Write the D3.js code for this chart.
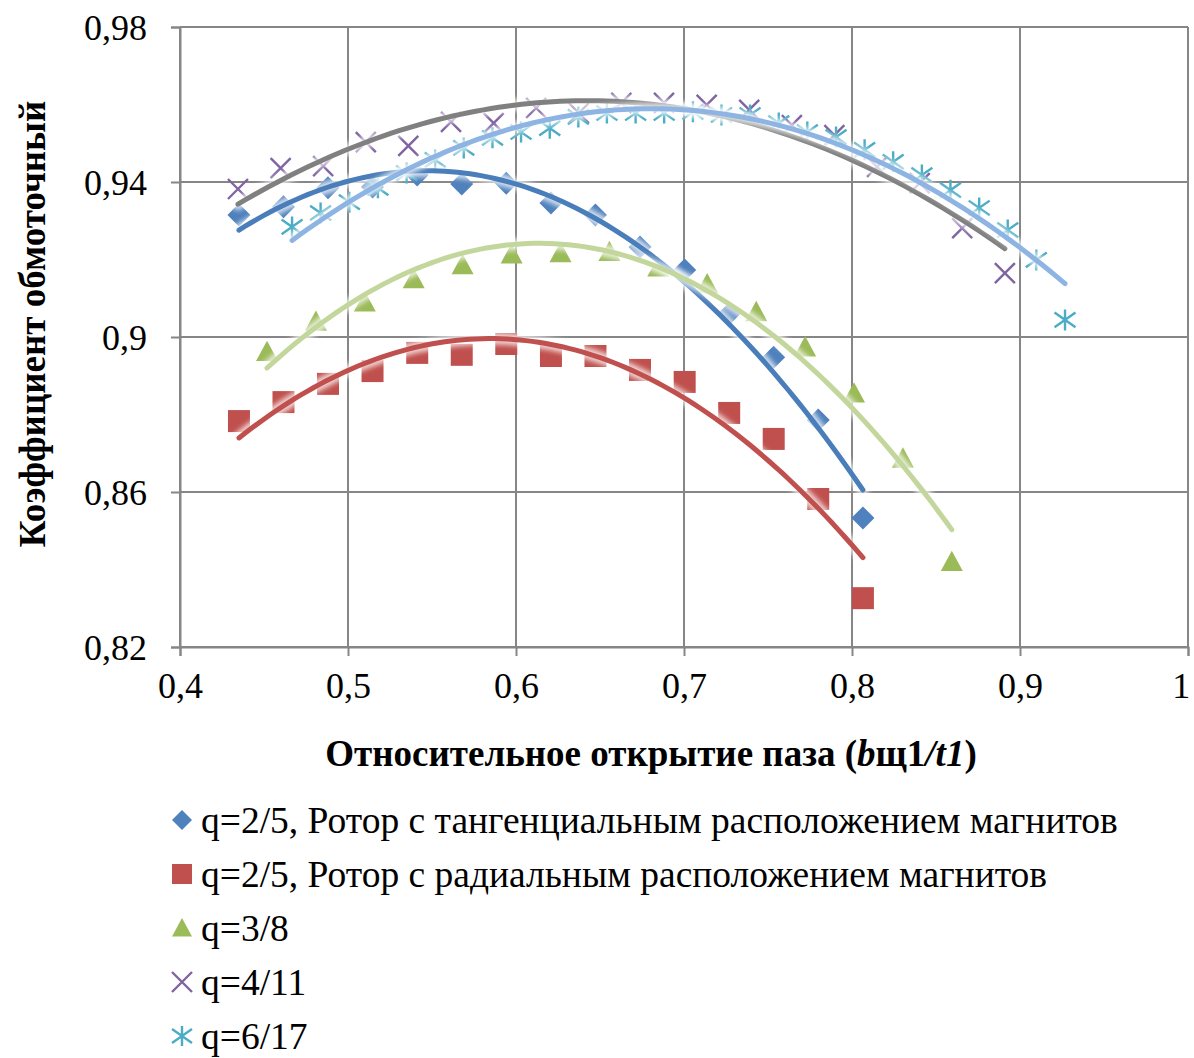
<!DOCTYPE html>
<html>
<head>
<meta charset="utf-8">
<script src="https://cdn.jsdelivr.net/npm/d3@7"></script>
<style>
  html, body { margin: 0; padding: 0; background: #fff; }
  svg { display: block; }
  text { font-family: "Liberation Serif", "Times New Roman", serif; fill: #000; }
</style>
</head>
<body>
<svg id="chart" width="1194" height="1058"></svg>
<script>
// Relative slot opening (b_sh1 / t1) for each series
const xTangential = [0.4351, 0.4616, 0.4881, 0.5146, 0.5412, 0.5677, 0.5942, 0.6208, 0.6473, 0.6738, 0.7004, 0.7269, 0.7534, 0.7799, 0.8065];
const yTangential = [0.9315, 0.9336, 0.9385, 0.9387, 0.9418, 0.9395, 0.9397, 0.9346, 0.9315, 0.9232, 0.9173, 0.9060, 0.8948, 0.8786, 0.8533];

const xRadial = [0.4351, 0.4616, 0.4881, 0.5146, 0.5412, 0.5677, 0.5942, 0.6208, 0.6473, 0.6738, 0.7004, 0.7269, 0.7534, 0.7799, 0.8065];
const yRadial = [0.8783, 0.8832, 0.8879, 0.8912, 0.8959, 0.8954, 0.8982, 0.8951, 0.8951, 0.8915, 0.8884, 0.8804, 0.8737, 0.8582, 0.8326];

const xQ38 = [0.4518, 0.4809, 0.5100, 0.5391, 0.5682, 0.5974, 0.6265, 0.6556, 0.6847, 0.7138, 0.7430, 0.7721, 0.8012, 0.8303, 0.8594];
const yQ38 = [0.8962, 0.9040, 0.9090, 0.9150, 0.9186, 0.9214, 0.9217, 0.9220, 0.9180, 0.9137, 0.9065, 0.8974, 0.8855, 0.8687, 0.8420];

const xQ411 = [0.4345, 0.4599, 0.4852, 0.5106, 0.5359, 0.5613, 0.5867, 0.6120, 0.6374, 0.6627, 0.6881, 0.7135, 0.7388, 0.7642, 0.7895, 0.8149, 0.8403, 0.8656, 0.8910];
const yQ411 = [0.9382, 0.9436, 0.9441, 0.9503, 0.9493, 0.9555, 0.9552, 0.9591, 0.9578, 0.9604, 0.9604, 0.9599, 0.9586, 0.9547, 0.9521, 0.9439, 0.9397, 0.9281, 0.9165];

const xQ617 = [0.4667, 0.4837, 0.5008, 0.5178, 0.5349, 0.5519, 0.5689, 0.5860, 0.6030, 0.6201, 0.6371, 0.6541, 0.6712, 0.6882, 0.7053, 0.7223, 0.7393, 0.7564, 0.7734, 0.7905, 0.8075, 0.8245, 0.8416, 0.8586, 0.8757, 0.8927, 0.9097, 0.9268];
const yQ617 = [0.9284, 0.9320, 0.9348, 0.9385, 0.9423, 0.9457, 0.9488, 0.9514, 0.9529, 0.9539, 0.9568, 0.9578, 0.9578, 0.9578, 0.9581, 0.9573, 0.9573, 0.9552, 0.9529, 0.9516, 0.9483, 0.9452, 0.9418, 0.9379, 0.9333, 0.9276, 0.9199, 0.9044];

const seriesNames = [
  "q=2/5, Ротор с тангенциальным расположением магнитов",
  "q=2/5, Ротор с радиальным расположением магнитов",
  "q=3/8",
  "q=4/11",
  "q=6/17"
];
const xTicks = [0.4, 0.5, 0.6, 0.7, 0.8, 0.9, 1];
const yTicks = [0.82, 0.86, 0.9, 0.94, 0.98];

const series = [
  { name: seriesNames[0], xs: xTangential, ys: yTangential, shape: "diamond",  color: "#4F81BD", trend: "#4A7EBB" },
  { name: seriesNames[1], xs: xRadial,     ys: yRadial,     shape: "square",   color: "#C0504D", trend: "#C0504D" },
  { name: seriesNames[2], xs: xQ38,        ys: yQ38,        shape: "triangle", color: "#9BBB59", trend: "#C3D69B" },
  { name: seriesNames[3], xs: xQ411,       ys: yQ411,       shape: "cross",    color: "#8064A2", trend: "#808080" },
  { name: seriesNames[4], xs: xQ617,       ys: yQ617,       shape: "star",     color: "#4BACC6", trend: "#8DB4E2" }
];

const svg = d3.select("#chart");
const fmt = v => String(v).replace(".", ",");

const x = d3.scaleLinear().domain([0.4, 1]).range([180, 1188]);
const y = d3.scaleLinear().domain([0.82, 0.98]).range([647, 27]);

const defs = svg.append("defs");
defs.append("filter").attr("id", "glow").attr("x", "-10%").attr("y", "-10%").attr("width", "120%").attr("height", "120%")
  .append("feGaussianBlur").attr("stdDeviation", 2.5);

// grid
const grid = svg.append("g");
grid.selectAll("line.h").data(yTicks).join("line")
  .attr("x1", x(0.4)).attr("x2", x(1)).attr("y1", d => y(d)).attr("y2", d => y(d))
  .attr("stroke", "#868686").attr("stroke-width", 2);
grid.selectAll("line.v").data(xTicks).join("line")
  .attr("y1", y(0.98)).attr("y2", y(0.82)).attr("x1", d => x(d)).attr("x2", d => x(d))
  .attr("stroke", "#868686").attr("stroke-width", 2);

// axes
const xAxis = d3.axisBottom(x).tickValues(xTicks).tickSize(9).tickPadding(16).tickFormat(fmt);
const yAxis = d3.axisLeft(y).tickValues(yTicks).tickSize(9).tickPadding(24).tickFormat(fmt);
const gx = svg.append("g").attr("transform", `translate(0,${y(0.82)})`).call(xAxis);
const gy = svg.append("g").attr("transform", `translate(${x(0.4)},0)`).call(yAxis);
[gx, gy].forEach(g => {
  g.select(".domain").attr("stroke", "#868686").attr("stroke-width", 2);
  g.selectAll(".tick line").attr("stroke", "#868686").attr("stroke-width", 2);
  g.selectAll(".tick text").attr("font-size", 36).attr("font-family", "Liberation Serif").attr("fill", "#000");
});
gy.selectAll(".tick text").attr("dy", "0.34em");
// keep the last x label inside the canvas
gx.selectAll(".tick text").filter(d => d === 1).attr("text-anchor", "end").attr("dx", "0.05em");

// marker shapes
function markerPath(shape, s) {
  const h = s / 2;
  switch (shape) {
    case "diamond": return `M0,${-h}L${h},0L0,${h}L${-h},0Z`;
    case "square": return `M${-h},${-h}H${h}V${h}H${-h}Z`;
    case "triangle": return `M0,${-h}L${h},${h * 0.85}L${-h},${h * 0.85}Z`;
    case "cross": return `M${-h},${-h}L${h},${h}M${h},${-h}L${-h},${h}`;
    case "star": return `M${-h},${-h * 0.7}L${h},${h * 0.7}M${h},${-h * 0.7}L${-h},${h * 0.7}M0,${-h}V${h}`;
  }
}
const markerSize = { diamond: 23, square: 22, triangle: 22, cross: 20, star: 21 };
function drawMarker(g, shape, color, size) {
  const p = g.append("path").attr("d", markerPath(shape, size));
  if (shape === "cross" || shape === "star") {
    p.attr("fill", "none").attr("stroke", color).attr("stroke-width", 2.4);
  } else {
    p.attr("fill", color);
  }
}

// least-squares polynomial trendline
function polyFit(xs, ys, order) {
  const n = order + 1;
  const A = Array.from({ length: n }, () => new Array(n + 1).fill(0));
  xs.forEach((xv, k) => {
    for (let i = 0; i < n; i++) {
      for (let j = 0; j < n; j++) A[i][j] += Math.pow(xv, i + j);
      A[i][n] += ys[k] * Math.pow(xv, i);
    }
  });
  for (let i = 0; i < n; i++) {
    let p = i;
    for (let r = i + 1; r < n; r++) if (Math.abs(A[r][i]) > Math.abs(A[p][i])) p = r;
    [A[i], A[p]] = [A[p], A[i]];
    for (let r = 0; r < n; r++) {
      if (r === i) continue;
      const f = A[r][i] / A[i][i];
      for (let c = i; c <= n; c++) A[r][c] -= f * A[i][c];
    }
  }
  const coef = A.map((row, i) => row[n] / row[i]);
  return xv => coef.reduce((s, c, i) => s + c * Math.pow(xv, i), 0);
}

// markers
const marks = svg.append("g");
series.forEach(s => {
  s.xs.forEach((xv, i) => {
    const g = marks.append("g").attr("transform", `translate(${x(xv)},${y(s.ys[i])})`);
    drawMarker(g, s.shape, s.color, markerSize[s.shape]);
  });
});

// trendlines
const line = d3.line().x(d => x(d[0])).y(d => y(d[1])).curve(d3.curveLinear);
const trends = svg.append("g");
series.forEach(s => {
  const f = polyFit(s.xs, s.ys, 2);
  const x0 = d3.min(s.xs), x1 = d3.max(s.xs);
  const pts = d3.range(0, 101).map(i => { const xv = x0 + (x1 - x0) * i / 100; return [xv, f(xv)]; });
  trends.append("path").attr("d", line(pts)).attr("fill", "none")
    .attr("stroke", "#fff").attr("stroke-opacity", 0.75).attr("stroke-width", 12)
    .attr("stroke-linecap", "round").attr("filter", "url(#glow)");
  trends.append("path").attr("d", line(pts)).attr("fill", "none")
    .attr("stroke", s.trend).attr("stroke-width", 5).attr("stroke-linecap", "round");
});

// axis titles
const xt = svg.append("text").attr("x", 651).attr("y", 766).attr("text-anchor", "middle")
  .attr("font-size", 37).attr("font-weight", "bold");
xt.append("tspan").text("Относительное открытие паза (");
xt.append("tspan").attr("font-style", "italic").text("b");
xt.append("tspan").text("щ1");
xt.append("tspan").attr("font-style", "italic").text("/t1");
xt.append("tspan").text(")");

svg.append("text").attr("transform", "translate(45,324) rotate(-90)").attr("text-anchor", "middle")
  .attr("font-size", 37).attr("font-weight", "bold").text("Коэффициент обмоточный");

// legend
const legend = svg.append("g");
series.forEach((s, i) => {
  const cy = 820 + i * 54;
  const g = legend.append("g").attr("transform", `translate(182,${cy})`);
  drawMarker(g, s.shape, s.color, 20);
  legend.append("text").attr("x", 201).attr("y", cy).attr("dy", "0.35em")
    .attr("font-size", 37.5).text(s.name);
});
</script>
</body>
</html>
